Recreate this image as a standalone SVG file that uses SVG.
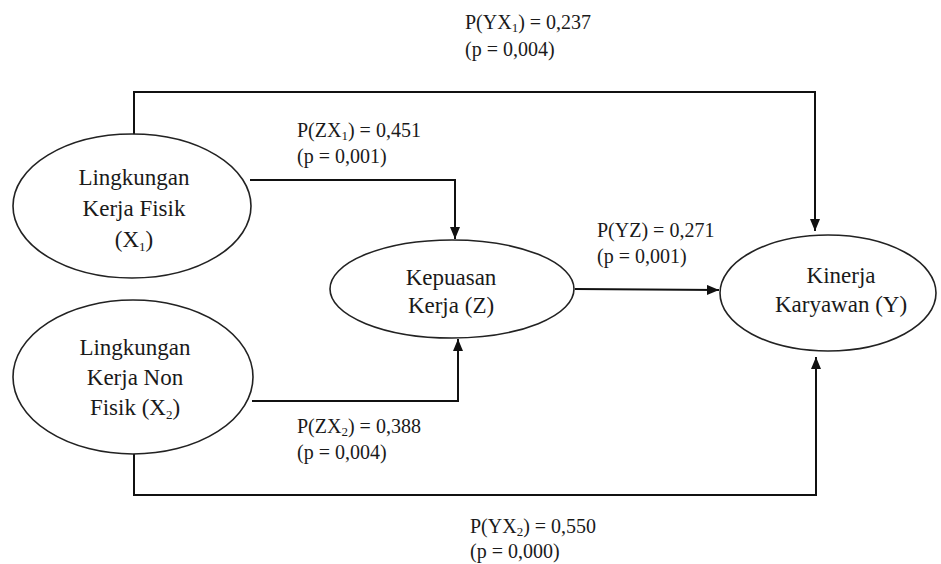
<svg xmlns="http://www.w3.org/2000/svg" width="941" height="564" viewBox="0 0 941 564">
<style>
.node ellipse{fill:#fff;stroke:#222;stroke-width:1.6}
.nt{font-family:'Liberation Serif','DejaVu Serif',serif;font-size:23px;fill:#1a1a1a;text-anchor:middle}
.lb{font-family:'Liberation Serif','DejaVu Serif',serif;font-size:20px;fill:#1a1a1a}
.sub{font-size:13px}
#connectors path{fill:none;stroke:#111;stroke-width:2}
</style>
<defs>
<marker id="arr" viewBox="0 0 12 10" refX="12" refY="5" markerWidth="12" markerHeight="10" markerUnits="userSpaceOnUse" orient="auto">
<path d="M0,0 L12,5 L0,10 z" fill="#111"/>
</marker>
</defs>
<rect width="941" height="564" fill="#fff"/>
<g id="connectors">
<path d="M134,134 V92 H815 V231" marker-end="url(#arr)"/>
<path d="M250,180 H455 V239" marker-end="url(#arr)"/>
<path d="M575,289 L719,290" marker-end="url(#arr)"/>
<path d="M252,401 H458 V339" marker-end="url(#arr)"/>
<path d="M134,454 V495 H816 V357" marker-end="url(#arr)"/>
</g>
<g id="X1" class="node">
<ellipse cx="132" cy="206" rx="119" ry="72"/>
<text class="nt" x="134" y="185">Lingkungan</text>
<text class="nt" x="134" y="216">Kerja Fisik</text>
<text class="nt" x="134" y="247">(X<tspan class="sub" dy="4">1</tspan><tspan dy="-4">)</tspan></text>
</g>
<g id="X2" class="node">
<ellipse cx="133" cy="377" rx="120" ry="77"/>
<text class="nt" x="135" y="355">Lingkungan</text>
<text class="nt" x="135" y="385">Kerja Non</text>
<text class="nt" x="135" y="415">Fisik (X<tspan class="sub" dy="4">2</tspan><tspan dy="-4">)</tspan></text>
</g>
<g id="Z" class="node">
<ellipse cx="452" cy="289" rx="122" ry="49"/>
<text class="nt" x="451" y="285">Kepuasan</text>
<text class="nt" x="451" y="313">Kerja (Z)</text>
</g>
<g id="Y" class="node">
<ellipse cx="828" cy="293" rx="108" ry="58"/>
<text class="nt" x="841" y="283">Kinerja</text>
<text class="nt" x="841" y="312">Karyawan (Y)</text>
</g>
<g id="labels">
<text class="lb" x="465" y="29">P(YX<tspan class="sub" dy="3">1</tspan><tspan dy="-3">) = 0,237</tspan></text>
<text class="lb" x="465" y="56">(p = 0,004)</text>
<text class="lb" x="297" y="137">P(ZX<tspan class="sub" dy="3">1</tspan><tspan dy="-3">) = 0,451</tspan></text>
<text class="lb" x="297" y="163">(p = 0,001)</text>
<text class="lb" x="597" y="237">P(YZ) = 0,271</text>
<text class="lb" x="597" y="263">(p = 0,001)</text>
<text class="lb" x="297" y="433">P(ZX<tspan class="sub" dy="3">2</tspan><tspan dy="-3">) = 0,388</tspan></text>
<text class="lb" x="297" y="459">(p = 0,004)</text>
<text class="lb" x="470" y="533">P(YX<tspan class="sub" dy="3">2</tspan><tspan dy="-3">) = 0,550</tspan></text>
<text class="lb" x="470" y="558">(p = 0,000)</text>
</g>
</svg>
